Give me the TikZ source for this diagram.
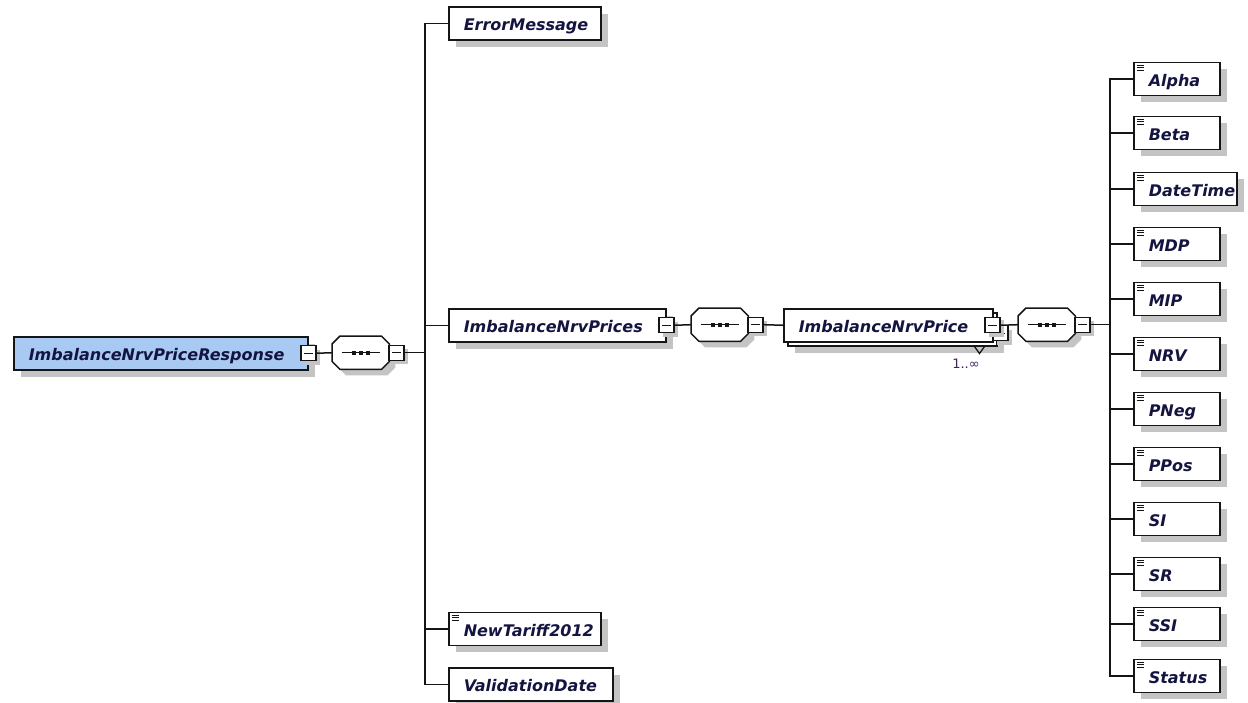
\documentclass[tikz,border=0pt]{standalone}
\usepackage{fontspec}
\setmainfont{DejaVu Sans}
\definecolor{rootblue}{HTML}{A8CAF2}
\definecolor{shd}{HTML}{C4C4C4}
\definecolor{txt}{HTML}{141440}
\definecolor{edge}{HTML}{151515}
\definecolor{occ}{HTML}{3C2460}
\newcommand{\bxt}[2]{\makebox[#1pt][l]{\hspace{15pt}#2}}
\newcommand{\seqshape}[1]{%
  \fill[shd, transform canvas={shift={(6pt,-6pt)}}] ([xshift=8pt]#1.north west) -- ([xshift=-8pt]#1.north east) -- ([yshift=-8pt]#1.north east) -- ([yshift=8pt]#1.south east) -- ([xshift=-8pt]#1.south east) -- ([xshift=8pt]#1.south west) -- ([yshift=8pt]#1.south west) -- ([yshift=-8pt]#1.north west) -- cycle;
  \draw[edge, line width=1.5pt, fill=white] ([xshift=8pt]#1.north west) -- ([xshift=-8pt]#1.north east) -- ([yshift=-8pt]#1.north east) -- ([yshift=8pt]#1.south east) -- ([xshift=-8pt]#1.south east) -- ([xshift=8pt]#1.south west) -- ([yshift=8pt]#1.south west) -- ([yshift=-8pt]#1.north west) -- cycle;
  \draw[edge, line width=1.4pt] ([xshift=-19pt]#1.center) -- ([xshift=19pt]#1.center);
  \foreach \q in {-7,0,7} \fill[edge] ([xshift=\q pt]#1.center) +(-2.2,-2.2) rectangle +(2.2,2.2);
}
\begin{document}
\begin{tikzpicture}[x=1pt,y=-1pt,
  basebox/.style={draw=edge, line width=1.5pt, fill=white, inner sep=0pt, minimum height=33pt, anchor=north west, text=txt, text height=16pt, text depth=1.5pt, font=\fontsize{16}{16}\selectfont\bfseries\itshape},
  elem/.style={basebox, preaction={draw=none, fill=shd, transform canvas={shift={(7pt,-7pt)}}}},
  doc/.style={path picture={\foreach \yy in {2.8,5.4,8} \draw[line width=1.1pt, edge] ([shift={(3pt,-\yy pt)}]path picture bounding box.north west) -- ++(7.5,0);}},
  minus/.style={draw=edge, line width=1.4pt, fill=white, minimum size=15pt, inner sep=0pt, preaction={draw=none, fill=shd, transform canvas={shift={(4pt,-4pt)}}}, path picture={\draw[line width=1.3pt, edge] ([xshift=3pt]path picture bounding box.west) -- ([xshift=-3pt]path picture bounding box.east);}},
  seqbox/.style={inner sep=0pt, minimum width=57pt, minimum height=33pt, anchor=north west},
  conn/.style={draw=edge, line width=1.5pt}
]
\useasboundingbox (0,0) rectangle (1248,702);

% root
\node[elem, fill=rootblue] (root) at (13,336) {\bxt{294}{ImbalanceNrvPriceResponse}};
\node[minus] (rootm) at (root.east) {};
\node[seqbox] (s1) at (332,336) {};
\seqshape{s1}
\node[minus, anchor=west] (s1m) at ([xshift=-1pt]s1.east) {};
\coordinate (t1) at ([xshift=20pt]s1m.east);

% children of root
\node[elem] (em) at (448,6) {\bxt{152}{ErrorMessage}};
\node[elem] (ips) at (448,308) {\bxt{217}{ImbalanceNrvPrices}};
\node[elem, doc] (nt) at (448,611.5) {\bxt{152}{NewTariff2012}};
\node[elem] (vd) at (448,667) {\bxt{164}{ValidationDate}};

\node[minus] (ipsm) at (ips.east) {};
\node[seqbox] (s2) at (691,308) {};
\seqshape{s2}
\node[minus, anchor=west] (s2m) at ([xshift=-1pt]s2.east) {};

% repeated element
\node[elem] (ipback) at (787,312) {\phantom{\bxt{209}{x}}};
\node[minus] (ipmback) at ([xshift=3pt,yshift=-4pt]ipback.east) {};
\node[basebox] (ip) at (783,308) {\bxt{209}{ImbalanceNrvPrice}};
\node[minus, preaction={draw=none, fill=none}] (ipm) at ([xshift=-1pt]ip.east) {};
\draw[edge, line width=1.3pt] ([xshift=-23pt]ipback.south east) -- ++(5,7) -- ++(5,-7);
\node[font=\fontsize{13}{13}\selectfont, text=occ, inner sep=0pt] (occ) at (966,364) {1..∞};

\node[seqbox] (s3) at (1018,308) {};
\seqshape{s3}
\node[minus, anchor=west] (s3m) at ([xshift=-1pt]s3.east) {};
\coordinate (t2) at ([xshift=19pt]s3m.east);

% leaves
\foreach \nm/\lbl/\cy/\w in {la/Alpha/78/86, lb/Beta/132/86, lc/DateTime/188/103, ld/MDP/243/86, le/MIP/298/86, lf/NRV/353/86, lg/PNeg/408/86, lh/PPos/463/86, li/SI/518/86, lj/SR/573/86, lk/SSI/623/86, ll/Status/675/86}
  \node[elem, doc] (\nm) at (1133,\cy-16.5) {\bxt{\w}{\lbl}};

% connectors
\draw[conn] (rootm.east) -- (s1.west);
\draw[conn] (s1m.east) -- (t1);
\foreach \n in {em,ips,nt,vd} \draw[conn] (t1) |- (\n.west);
\draw[conn] (ipsm.east) -- (s2.west);
\draw[conn] (s2m.east) -- (ip.west);
\draw[conn] (ipm.east) -- (s3.west);
\draw[conn] (s3m.east) -- (t2);
\foreach \n in {la,lb,lc,ld,le,lf,lg,lh,li,lj,lk,ll} \draw[conn] (t2) |- (\n.west);
\end{tikzpicture}
\end{document}
